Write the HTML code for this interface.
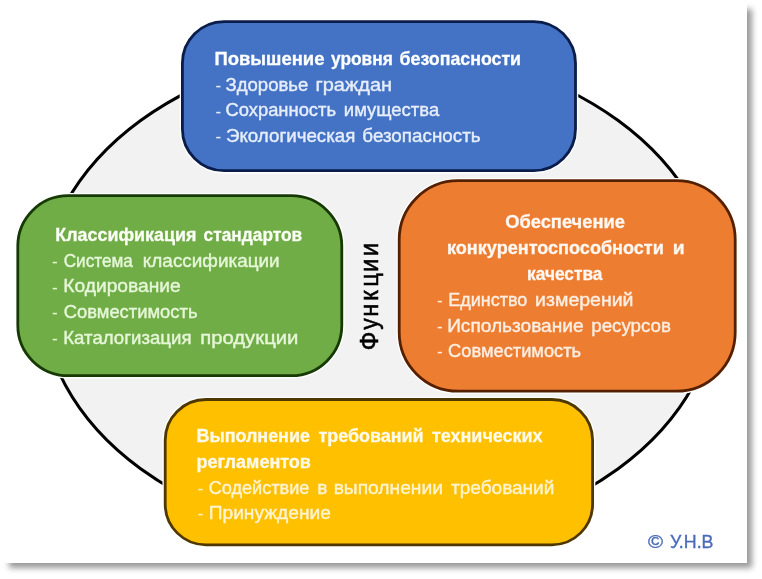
<!DOCTYPE html>
<html><head><meta charset="utf-8">
<style>
html,body{margin:0;padding:0;background:#fff;width:762px;height:579px;overflow:hidden}
.frame{position:absolute;left:0;top:0;width:747px;height:563px;background:#fff;box-shadow:7px 7px 6px -2px rgba(0,0,0,0.40)}
svg{position:absolute;left:0;top:0;will-change:transform}
text{font-family:"Liberation Sans",sans-serif;white-space:pre}
</style></head><body>
<div class="frame"></div>
<svg width="762" height="579" viewBox="0 0 762 579">
<ellipse cx="379.4" cy="294.6" rx="337.7" ry="246.2" fill="#f2f2f2" stroke="#000" stroke-width="3"/>
<rect x="182.4" y="21.6" width="393.1" height="149.1" rx="41.7" fill="none" stroke="#fff" stroke-width="5.5"/>
<rect x="182.4" y="21.6" width="393.1" height="149.1" rx="41.7" fill="#4472c4" stroke="#0a1d4a" stroke-width="2.8"/>
<rect x="17.8" y="195.7" width="324.0" height="180.0" rx="50.4" fill="none" stroke="#fff" stroke-width="5.5"/>
<rect x="17.8" y="195.7" width="324.0" height="180.0" rx="50.4" fill="#70ad47" stroke="#173a05" stroke-width="2.8"/>
<rect x="399.2" y="180.7" width="336.0" height="210.5" rx="58.9" fill="none" stroke="#fff" stroke-width="5.5"/>
<rect x="399.2" y="180.7" width="336.0" height="210.5" rx="58.9" fill="#ed7d31" stroke="#552000" stroke-width="2.8"/>
<rect x="165.2" y="399.5" width="427.4" height="145.3" rx="40.7" fill="none" stroke="#fff" stroke-width="5.5"/>
<rect x="165.2" y="399.5" width="427.4" height="145.3" rx="40.7" fill="#ffc000" stroke="#4f3800" stroke-width="2.8"/>
<text transform="translate(214.47,64.60) scale(1.0252,1)" font-size="18" font-weight="bold" fill="#ffffff" stroke="#ffffff" stroke-width="0.3">Повышение</text>
<text transform="translate(331.00,64.60) scale(0.9639,1)" font-size="18" font-weight="bold" fill="#ffffff" stroke="#ffffff" stroke-width="0.3">уровня</text>
<text transform="translate(399.60,64.60) scale(0.9879,1)" font-size="18" font-weight="bold" fill="#ffffff" stroke="#ffffff" stroke-width="0.3">безопасности</text>
<text transform="translate(215.40,92.00) scale(0.95,1)" font-size="18" fill="#e6eefb">-</text>
<text transform="translate(225.50,90.90) scale(1.0305,1)" font-size="18" font-weight="normal" fill="#e6eefb" stroke="#e6eefb" stroke-width="0.4">Здоровье</text>
<text transform="translate(315.49,90.90) scale(1.1081,1)" font-size="18" font-weight="normal" fill="#e6eefb" stroke="#e6eefb" stroke-width="0.4">граждан</text>
<text transform="translate(215.40,117.50) scale(0.95,1)" font-size="18" fill="#e6eefb">-</text>
<text transform="translate(225.50,116.40) scale(1.0207,1)" font-size="18" font-weight="normal" fill="#e6eefb" stroke="#e6eefb" stroke-width="0.4">Сохранность</text>
<text transform="translate(343.87,116.40) scale(1.0274,1)" font-size="18" font-weight="normal" fill="#e6eefb" stroke="#e6eefb" stroke-width="0.4">имущества</text>
<text transform="translate(215.40,143.00) scale(0.95,1)" font-size="18" fill="#e6eefb">-</text>
<text transform="translate(226.00,141.90) scale(1.0410,1)" font-size="18" font-weight="normal" fill="#e6eefb" stroke="#e6eefb" stroke-width="0.4">Экологическая</text>
<text transform="translate(362.35,141.90) scale(1.0453,1)" font-size="18" font-weight="normal" fill="#e6eefb" stroke="#e6eefb" stroke-width="0.4">безопасность</text>
<text transform="translate(55.31,241.10) scale(0.9944,1)" font-size="18" font-weight="bold" fill="#fbfff6" stroke="#fbfff6" stroke-width="0.3">Классификация</text>
<text transform="translate(203.60,241.10) scale(0.9622,1)" font-size="18" font-weight="bold" fill="#fbfff6" stroke="#fbfff6" stroke-width="0.3">стандартов</text>
<text transform="translate(51.90,267.90) scale(0.95,1)" font-size="18" fill="#e6f6d8">-</text>
<text transform="translate(63.70,266.80) scale(0.9553,1)" font-size="18" font-weight="normal" fill="#e6f6d8" stroke="#e6f6d8" stroke-width="0.4">Система</text>
<text transform="translate(142.85,266.80) scale(1.0511,1)" font-size="18" font-weight="normal" fill="#e6f6d8" stroke="#e6f6d8" stroke-width="0.4">классификации</text>
<text transform="translate(51.90,293.50) scale(0.95,1)" font-size="18" fill="#e6f6d8">-</text>
<text transform="translate(63.23,292.40) scale(1.0684,1)" font-size="18" font-weight="normal" fill="#e6f6d8" stroke="#e6f6d8" stroke-width="0.4">Кодирование</text>
<text transform="translate(51.90,319.30) scale(0.95,1)" font-size="18" fill="#e6f6d8">-</text>
<text transform="translate(63.70,318.20) scale(1.0215,1)" font-size="18" font-weight="normal" fill="#e6f6d8" stroke="#e6f6d8" stroke-width="0.4">Совместимость</text>
<text transform="translate(51.90,344.90) scale(0.95,1)" font-size="18" fill="#e6f6d8">-</text>
<text transform="translate(63.26,343.80) scale(1.0359,1)" font-size="18" font-weight="normal" fill="#e6f6d8" stroke="#e6f6d8" stroke-width="0.4">Каталогизация</text>
<text transform="translate(200.17,343.80) scale(1.1279,1)" font-size="18" font-weight="normal" fill="#e6f6d8" stroke="#e6f6d8" stroke-width="0.4">продукции</text>
<text transform="translate(505.20,228.10) scale(1.0175,1)" font-size="18" font-weight="bold" fill="#fff8f2" stroke="#fff8f2" stroke-width="0.3">Обеспечение</text>
<text transform="translate(447.00,254.10) scale(1.0049,1)" font-size="18" font-weight="bold" fill="#fff8f2" stroke="#fff8f2" stroke-width="0.3">конкурентоспособности</text>
<text transform="translate(672.82,254.10) scale(1.0778,1)" font-size="18" font-weight="bold" fill="#fff8f2" stroke="#fff8f2" stroke-width="0.3">и</text>
<text transform="translate(527.04,279.60) scale(0.9611,1)" font-size="18" font-weight="bold" fill="#fff8f2" stroke="#fff8f2" stroke-width="0.3">качества</text>
<text transform="translate(437.10,306.60) scale(0.95,1)" font-size="18" fill="#fdeee2">-</text>
<text transform="translate(448.13,305.50) scale(1.0007,1)" font-size="18" font-weight="normal" fill="#fdeee2" stroke="#fdeee2" stroke-width="0.4">Единство</text>
<text transform="translate(535.12,305.50) scale(1.0844,1)" font-size="18" font-weight="normal" fill="#fdeee2" stroke="#fdeee2" stroke-width="0.4">измерений</text>
<text transform="translate(437.10,332.70) scale(0.95,1)" font-size="18" fill="#fdeee2">-</text>
<text transform="translate(447.14,331.60) scale(1.0611,1)" font-size="18" font-weight="normal" fill="#fdeee2" stroke="#fdeee2" stroke-width="0.4">Использование</text>
<text transform="translate(591.26,331.60) scale(1.0421,1)" font-size="18" font-weight="normal" fill="#fdeee2" stroke="#fdeee2" stroke-width="0.4">ресурсов</text>
<text transform="translate(437.10,358.30) scale(0.95,1)" font-size="18" fill="#fdeee2">-</text>
<text transform="translate(448.12,357.20) scale(1.0153,1)" font-size="18" font-weight="normal" fill="#fdeee2" stroke="#fdeee2" stroke-width="0.4">Совместимость</text>
<text transform="translate(196.50,442.20) scale(0.9952,1)" font-size="18" font-weight="bold" fill="#fffaea" stroke="#fffaea" stroke-width="0.3">Выполнение</text>
<text transform="translate(318.60,442.20) scale(0.9955,1)" font-size="18" font-weight="bold" fill="#fffaea" stroke="#fffaea" stroke-width="0.3">требований</text>
<text transform="translate(432.00,442.20) scale(0.9978,1)" font-size="18" font-weight="bold" fill="#fffaea" stroke="#fffaea" stroke-width="0.3">технических</text>
<text transform="translate(196.50,467.90) scale(1.0020,1)" font-size="18" font-weight="bold" fill="#fffaea" stroke="#fffaea" stroke-width="0.3">регламентов</text>
<text transform="translate(197.70,495.00) scale(0.95,1)" font-size="18" fill="#fff3d0">-</text>
<text transform="translate(208.72,493.90) scale(1.0074,1)" font-size="18" font-weight="normal" fill="#fff3d0" stroke="#fff3d0" stroke-width="0.4">Содействие</text>
<text transform="translate(317.24,493.90) scale(1.0625,1)" font-size="18" font-weight="normal" fill="#fff3d0" stroke="#fff3d0" stroke-width="0.4">в</text>
<text transform="translate(333.63,493.90) scale(1.0697,1)" font-size="18" font-weight="normal" fill="#fff3d0" stroke="#fff3d0" stroke-width="0.4">выполнении</text>
<text transform="translate(451.00,493.90) scale(1.0574,1)" font-size="18" font-weight="normal" fill="#fff3d0" stroke="#fff3d0" stroke-width="0.4">требований</text>
<text transform="translate(197.70,520.20) scale(0.95,1)" font-size="18" fill="#fff3d0">-</text>
<text transform="translate(208.67,519.10) scale(1.0666,1)" font-size="18" font-weight="normal" fill="#fff3d0" stroke="#fff3d0" stroke-width="0.4">Принуждение</text>
<text transform="translate(647.90,548.20) scale(1.1308,1)" font-size="18" font-weight="normal" fill="#4a6cb8" stroke="#4a6cb8" stroke-width="0.35">©</text>
<text transform="translate(669.90,548.20) scale(0.9899,1)" font-size="18" font-weight="normal" fill="#4a6cb8" stroke="#4a6cb8" stroke-width="0.35">У.Н.В</text>
<text transform="translate(378,350.60) rotate(-90) scale(1.0,1)" font-size="25" fill="#000" stroke="#000" stroke-width="0.55">Ф</text>
<text transform="translate(378,329.68) rotate(-90) scale(0.92,1)" font-size="25" fill="#000" stroke="#000" stroke-width="0.55">у</text>
<text transform="translate(378,316.75) rotate(-90) scale(0.95,1)" font-size="25" fill="#000" stroke="#000" stroke-width="0.55">н</text>
<text transform="translate(378,300.78) rotate(-90) scale(0.95,1)" font-size="25" fill="#000" stroke="#000" stroke-width="0.55">к</text>
<text transform="translate(378,286.55) rotate(-90) scale(0.92,1)" font-size="25" fill="#000" stroke="#000" stroke-width="0.55">ц</text>
<text transform="translate(378,272.04) rotate(-90) scale(0.97,1)" font-size="25" fill="#000" stroke="#000" stroke-width="0.55">и</text>
<text transform="translate(378,256.24) rotate(-90) scale(0.97,1)" font-size="25" fill="#000" stroke="#000" stroke-width="0.55">и</text>
</svg>
</body></html>
